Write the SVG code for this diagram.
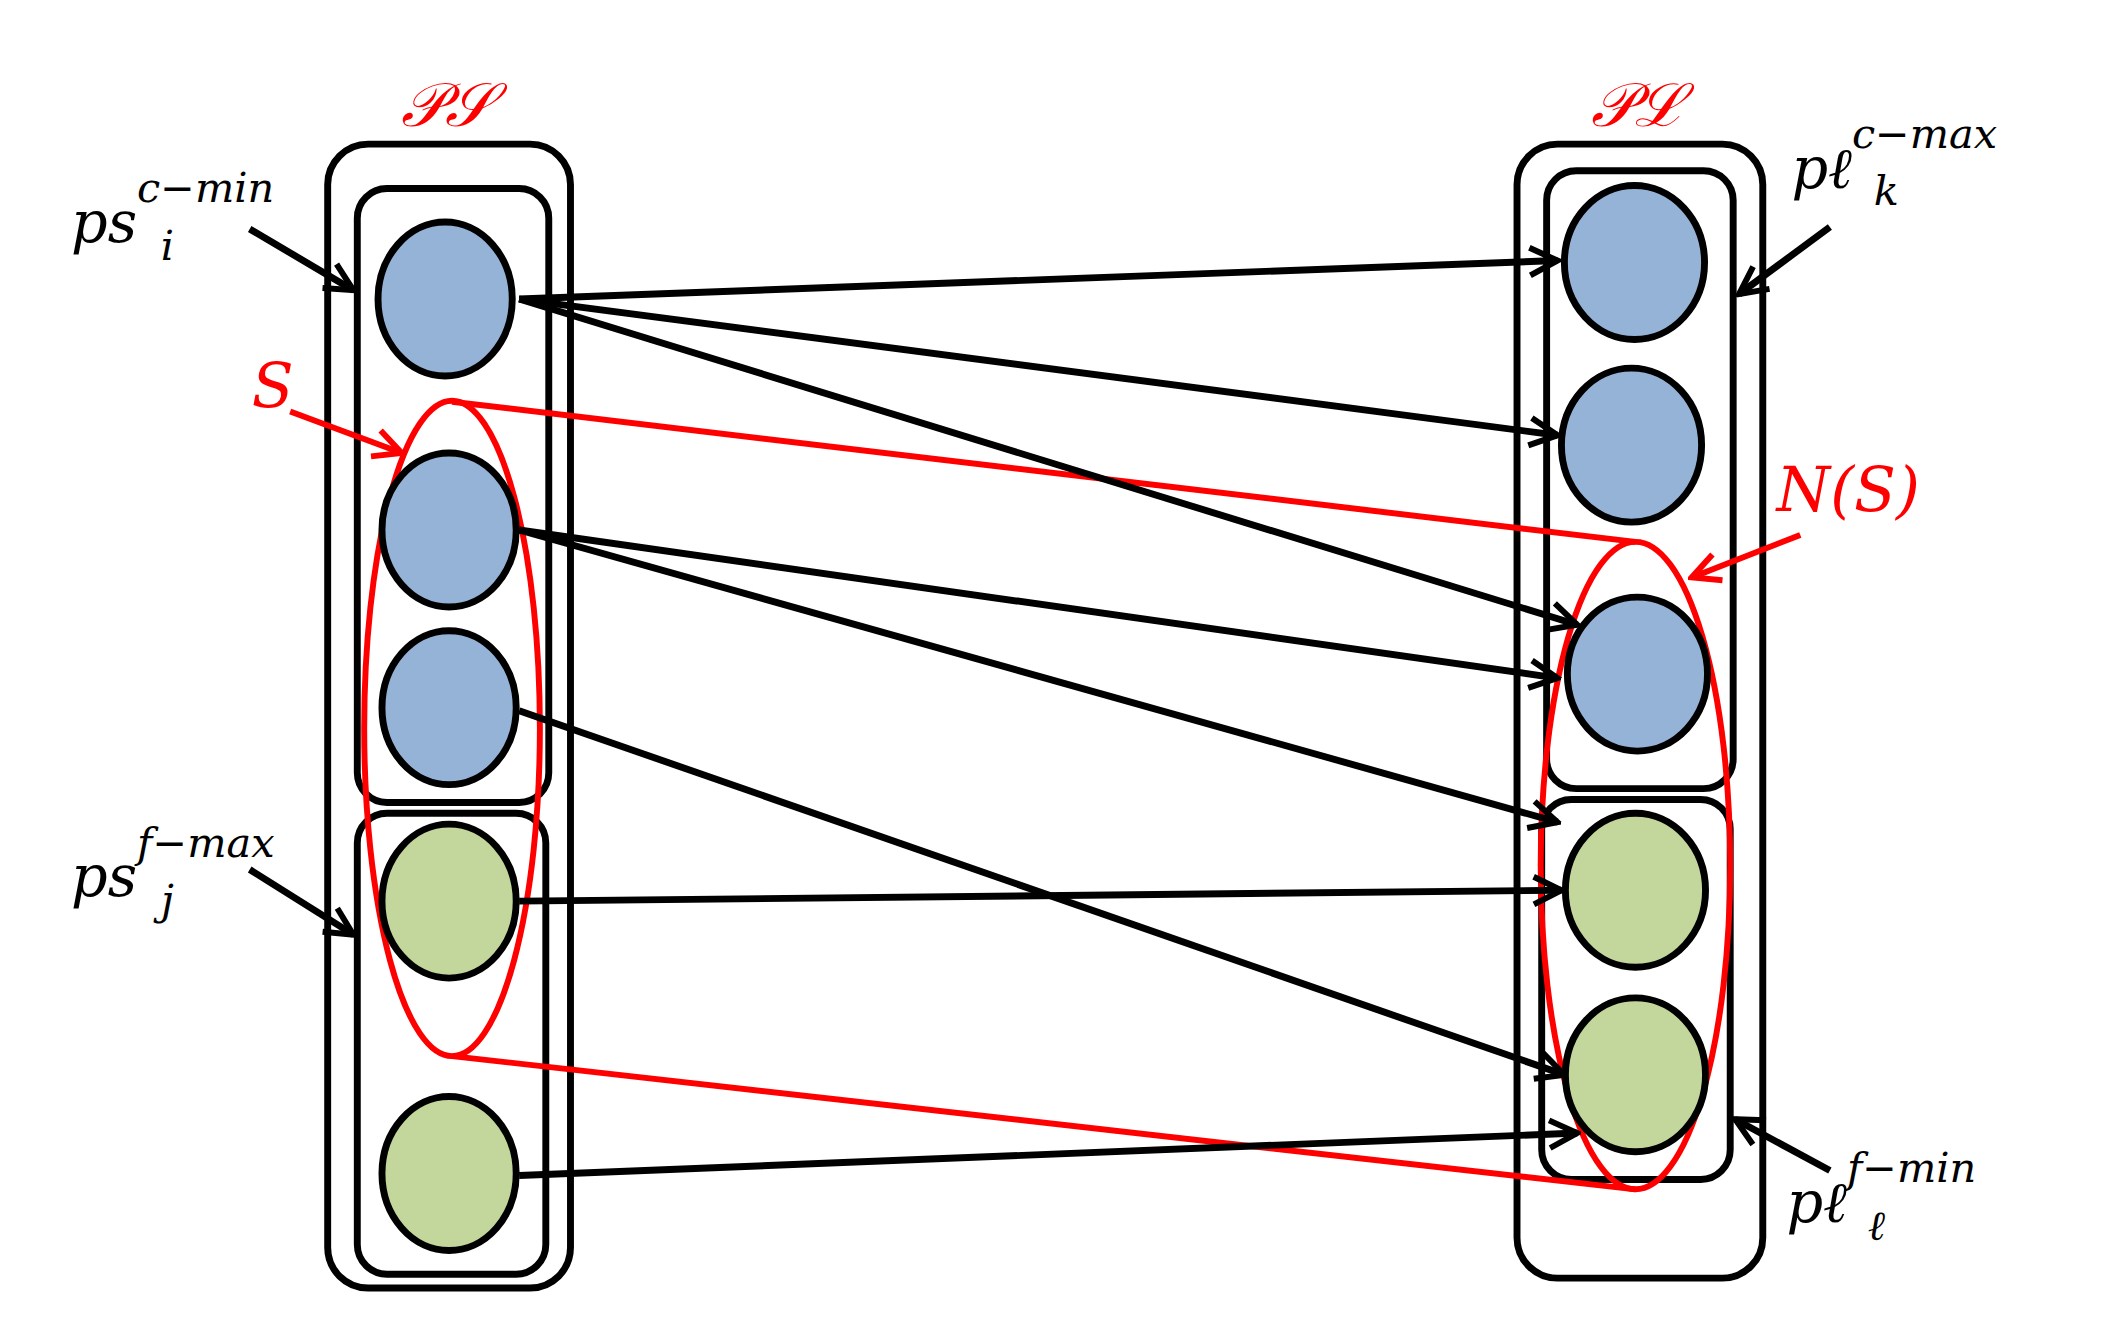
<svg xmlns="http://www.w3.org/2000/svg" width="2111" height="1321" viewBox="0 0 2111 1321">
<style>
.box{fill:none;stroke:#000;stroke-width:7}
.blue{fill:#95B3D7;stroke:#000;stroke-width:7}
.green{fill:#C3D69B;stroke:#000;stroke-width:7}
.red{fill:none;stroke:#f00;stroke-width:6}
.arr{stroke:#000;stroke-width:7;fill:none;marker-end:url(#ah)}
.rarr{stroke:#f00;stroke-width:6;fill:none;marker-end:url(#rah)}
.t{font-family:"DejaVu Serif","Liberation Serif",serif;font-style:italic;font-size:58px;fill:#000}
.s{font-size:42px}
.rt{font-family:"DejaVu Serif","Liberation Serif",serif;font-style:italic;font-size:62px;fill:#f00}
</style>
<defs>
<marker id="ah" markerWidth="36" markerHeight="36" refX="32" refY="18" orient="auto" markerUnits="userSpaceOnUse" viewBox="0 0 36 36"><path d="M4,4 L32,18 L4,32" fill="none" stroke="#000" stroke-width="6"/></marker>
<marker id="rah" markerWidth="36" markerHeight="36" refX="32" refY="18" orient="auto" markerUnits="userSpaceOnUse" viewBox="0 0 36 36"><path d="M4,4 L32,18 L4,32" fill="none" stroke="#f00" stroke-width="6"/></marker>
</defs>
<g transform="scale(0.987)">
<g id="PS">
<rect class="box" x="332" y="146" width="246" height="1159" rx="41"/>
<rect class="box" x="362" y="191" width="194" height="622" rx="30"/>
<rect class="box" x="362" y="824" width="191" height="467" rx="30"/>
</g>
<g id="PL">
<rect class="box" x="1537" y="146" width="249" height="1149" rx="41"/>
<rect class="box" x="1567" y="173" width="189" height="626" rx="30"/>
<rect class="box" x="1562" y="810" width="191" height="385" rx="30"/>
</g>
<g id="S"><ellipse class="red" cx="458" cy="738" rx="89" ry="332"/></g>
<g id="NS"><ellipse class="red" cx="1657" cy="877" rx="96" ry="328"/></g>
<g id="redlines"><line class="red" x1="458" y1="407" x2="1657" y2="549"/><line class="red" x1="458" y1="1070" x2="1657" y2="1205"/></g>
<g id="L1"><ellipse class="blue" cx="451" cy="303" rx="68" ry="78"/></g>
<g id="L2"><ellipse class="blue" cx="455" cy="537" rx="68" ry="78"/></g>
<g id="L3"><ellipse class="blue" cx="455" cy="717" rx="68" ry="78"/></g>
<g id="L4"><ellipse class="green" cx="455" cy="913" rx="68" ry="78"/></g>
<g id="L5"><ellipse class="green" cx="455" cy="1189" rx="68" ry="78"/></g>
<g id="R1"><ellipse class="blue" cx="1656" cy="266" rx="71" ry="78"/></g>
<g id="R2"><ellipse class="blue" cx="1653" cy="451" rx="71" ry="78"/></g>
<g id="R3"><ellipse class="blue" cx="1659" cy="683" rx="71" ry="78"/></g>
<g id="R4"><ellipse class="green" cx="1657" cy="902" rx="71" ry="78"/></g>
<g id="R5"><ellipse class="green" cx="1657" cy="1089" rx="71" ry="78"/></g>
<g id="connectors">
<line class="arr" x1="526" y1="303" x2="1578" y2="264"/>
<line class="arr" x1="526" y1="303" x2="1578" y2="441"/>
<line class="arr" x1="526" y1="303" x2="1598" y2="633"/>
<line class="arr" x1="526" y1="537" x2="1578" y2="687"/>
<line class="arr" x1="526" y1="537" x2="1578" y2="833"/>
<line class="arr" x1="526" y1="720" x2="1585" y2="1089"/>
<line class="arr" x1="526" y1="913" x2="1582" y2="902"/>
<line class="arr" x1="526" y1="1191" x2="1598" y2="1148"/>
<line class="arr" x1="253" y1="232" x2="358" y2="294"/>
<line class="arr" x1="253" y1="881" x2="358" y2="947"/>
<line class="arr" x1="1854" y1="230" x2="1762" y2="298"/>
<line class="arr" x1="1854" y1="1186" x2="1758" y2="1134"/>
<line class="rarr" x1="294" y1="417" x2="407" y2="459"/>
<line class="rarr" x1="1824" y1="542" x2="1714" y2="585"/>
</g>
<g id="labels">
<text class="rt" x="406" y="128">𝒫𝒮</text>
<text class="rt" x="1612" y="128">𝒫ℒ</text>
<text class="rt" x="255" y="412">S</text>
<text class="rt" x="1800" y="518">N(S)</text>
<text class="t" x="72" y="245">ps<tspan class="s" dy="-40">c−min</tspan><tspan class="s" dx="-115" dy="58">i</tspan></text>
<text class="t" x="72" y="908">ps<tspan class="s" dy="-40">f−max</tspan><tspan class="s" dx="-115" dy="58">j</tspan></text>
<text class="t" x="1815" y="190">pℓ<tspan class="s" dy="-40">c−max</tspan><tspan class="s" dx="-125" dy="58">k</tspan></text>
<text class="t" x="1810" y="1238">pℓ<tspan class="s" dy="-40">f−min</tspan><tspan class="s" dx="-110" dy="58">ℓ</tspan></text>
</g>
</g>
</svg>
